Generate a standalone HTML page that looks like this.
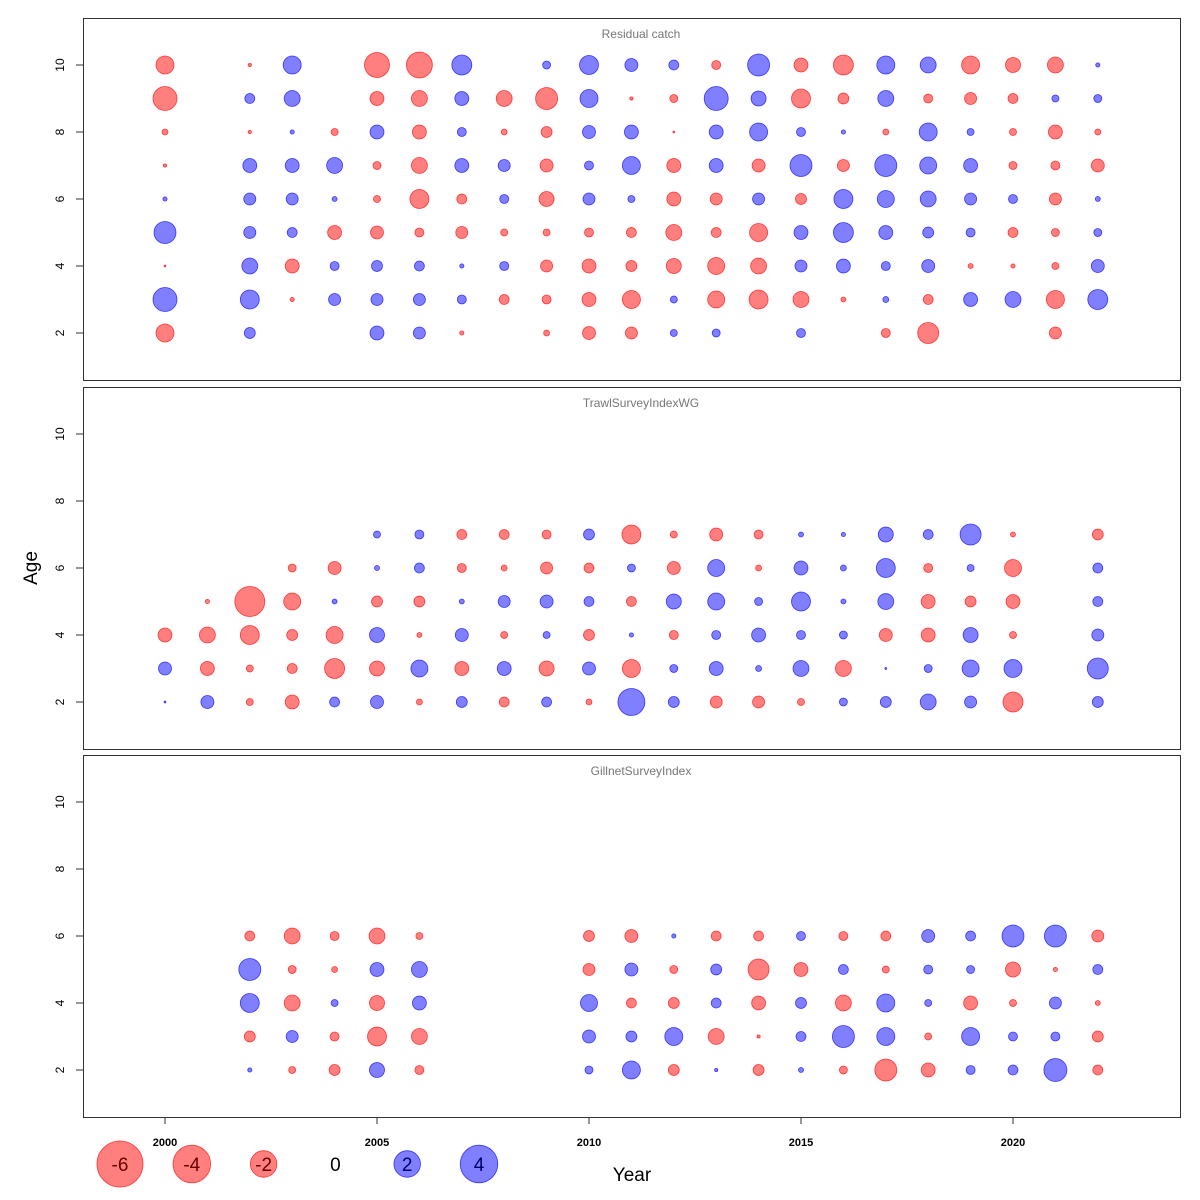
<!DOCTYPE html>
<html><head><meta charset="utf-8"><title>Residual bubble plots</title>
<style>
html,body{margin:0;padding:0;background:#fff;}
svg{display:block;font-family:"Liberation Sans",sans-serif;}
</style></head>
<body>
<svg id="chart" width="1200" height="1200" viewBox="0 0 1200 1200" xmlns="http://www.w3.org/2000/svg"></svg>
<script>
const years = [2000,2001,2002,2003,2004,2005,2006,2007,2008,2009,2010,2011,2012,2013,2014,2015,2016,2017,2018,2019,2020,2021,2022];
const xTicks = [2000,2005,2010,2015,2020];
const yTicks = [2,4,6,8,10];
const panelTitles = ["Residual catch","TrawlSurveyIndexWG","GillnetSurveyIndex"];
const legendValues = [-6,-4,-2,0,2,4];

const catchAges = [10,9,8,7,6,5,4,3,2];
const catchValues = [
 [-0.92,null,-0.03,0.92,null,-1.77,-1.91,1.13,null,0.18,1.02,0.48,0.28,-0.23,1.37,-0.55,-1.13,0.92,0.72,-0.92,-0.64,-0.72,0.05],
 [-1.63,null,0.28,0.72,null,-0.55,-0.72,0.55,-0.72,-1.37,0.92,-0.03,-0.18,1.63,0.64,-1.02,-0.34,0.72,-0.23,-0.41,-0.28,0.14,0.18],
 [-0.1,null,-0.03,0.05,-0.14,0.55,-0.55,0.23,-0.1,-0.34,0.48,0.55,-0.01,0.55,0.92,0.23,0.05,-0.1,0.92,0.14,-0.14,-0.55,-0.1],
 [-0.03,null,0.55,0.55,0.72,-0.18,-0.72,0.55,0.41,-0.48,0.23,0.92,-0.55,0.55,-0.48,1.37,-0.41,1.37,0.82,0.55,-0.18,-0.23,-0.48],
 [0.05,null,0.41,0.41,0.07,-0.14,-1.02,-0.28,0.23,-0.64,0.41,0.14,-0.55,-0.41,0.41,-0.34,1.02,0.82,0.72,0.41,0.23,-0.41,0.07],
 [1.37,null,0.41,0.28,-0.55,-0.48,-0.23,-0.41,-0.14,-0.14,-0.23,-0.28,-0.72,-0.28,-0.92,0.55,1.13,0.55,0.34,0.23,-0.28,-0.18,0.18],
 [-0.01,null,0.72,-0.55,0.23,0.34,0.28,0.05,0.23,-0.41,-0.55,-0.34,-0.64,-0.82,-0.72,0.41,0.55,0.23,0.48,-0.07,-0.05,-0.14,0.48],
 [1.63,null,1.02,-0.05,0.41,0.41,0.41,0.23,-0.28,-0.23,-0.55,-0.92,0.14,-0.82,-1.02,-0.72,-0.07,0.1,-0.28,0.55,0.72,-0.92,1.13],
 [-0.92,null,0.34,null,null,0.55,0.41,-0.05,null,-0.1,-0.48,-0.41,0.14,0.18,null,0.23,null,-0.23,-1.25,null,null,-0.41,null]
];
const trawlAges = [7,6,5,4,3,2];
const trawlValues = [
 [null,null,null,null,null,0.14,0.23,-0.28,-0.28,-0.23,0.34,-1.02,-0.14,-0.48,-0.23,0.07,0.05,0.64,0.28,1.25,-0.07,null,-0.34],
 [null,null,null,-0.18,-0.48,0.07,0.28,-0.23,-0.1,-0.41,-0.28,0.18,-0.48,0.82,-0.1,0.55,0.1,1.02,-0.23,0.14,-0.82,null,0.28],
 [null,-0.05,-2.55,-0.82,0.07,-0.34,-0.34,0.07,0.41,0.48,0.28,-0.28,0.64,0.82,0.18,1.02,0.07,0.72,-0.55,-0.34,-0.55,null,0.28],
 [-0.55,-0.72,-1.02,-0.34,-0.82,0.64,-0.07,0.48,-0.14,0.14,-0.34,0.05,-0.23,0.23,0.55,0.23,0.18,-0.48,-0.55,0.64,-0.14,null,0.41],
 [0.48,-0.55,-0.14,-0.28,-1.13,-0.64,0.82,-0.55,0.55,-0.64,0.48,-0.92,0.18,0.55,0.1,0.72,-0.72,0.01,0.18,0.82,0.92,null,1.25],
 [0.01,0.48,-0.14,-0.55,0.28,0.48,-0.1,0.34,-0.28,0.28,-0.1,2.06,0.34,-0.41,-0.41,-0.14,0.18,0.34,0.72,0.41,-1.13,null,0.34]
];
const gillnetAges = [6,5,4,3,2];
const gillnetValues = [
 [null,null,-0.28,-0.72,-0.23,-0.72,-0.14,null,null,null,-0.34,-0.48,0.05,-0.28,-0.28,0.23,-0.23,-0.28,0.48,0.28,1.37,1.37,-0.41],
 [null,null,1.37,-0.18,-0.1,0.55,0.72,null,null,null,-0.41,0.48,-0.18,0.34,-1.25,-0.55,0.28,-0.14,0.23,0.18,-0.64,-0.05,0.28],
 [null,null,1.02,-0.72,0.14,-0.64,0.55,null,null,null,0.82,-0.28,-0.34,0.28,-0.55,0.34,-0.72,0.92,0.14,-0.55,-0.14,0.41,-0.07],
 [null,null,-0.34,0.41,-0.23,-1.02,-0.72,null,null,null,0.48,0.34,0.92,-0.72,-0.03,0.28,1.37,0.92,-0.14,0.92,0.23,0.23,-0.34],
 [null,null,0.05,-0.14,-0.34,0.64,-0.23,null,null,null,0.18,0.92,-0.34,0.03,-0.34,0.07,-0.18,-1.37,-0.55,0.23,0.28,1.5,-0.28]
];

const NS = "http://www.w3.org/2000/svg";
const svg = document.getElementById('chart');
const PANEL_OFFSETS = [0,369,737];
function xScale(y){ return 165 + (y-2000)*42.4; }
function yScale(age, p){ return 333 - (age-2)*33.5 + PANEL_OFFSETS[p]; }
function rScale(v){ return 9.4*Math.sqrt(Math.abs(v)); }
function mk(tag, attrs){ const e=document.createElementNS(NS,tag); for(const k in attrs) e.setAttribute(k,attrs[k]); svg.appendChild(e); return e; }

const panels = [[catchAges,catchValues],[trawlAges,trawlValues],[gillnetAges,gillnetValues]];
const panelNames = ['catch','trawl','gillnet'];
panels.forEach((pd,p)=>{
  const top = 18 + PANEL_OFFSETS[p];
  const box = mk('rect',{x:83.5,y:top+0.5,width:1097,height:362,fill:'none',stroke:'#333','stroke-width':1});
  
  
  const t = mk('text',{x:641,y:top+20,'text-anchor':'middle','font-size':12,fill:'#777'});
  t.textContent = panelTitles[p];
  
  
  yTicks.forEach(a=>{
    const yy = yScale(a,p);
    const tk = mk('line',{x1:76,x2:83,y1:yy,y2:yy,stroke:'#333'});
    
    
    const lb = mk('text',{x:64,y:yy,'text-anchor':'middle','font-size':12,fill:'#000',transform:'rotate(-90 64 '+yy+')'});
    lb.textContent = a;
    
    
  });
  const ages = pd[0], vals = pd[1];
  ages.forEach((age,i)=>{
    vals[i].forEach((v,j)=>{
      if(v===null || v===undefined) return;
      const c = mk('circle',{cx:xScale(years[j]),cy:yScale(age,p),r:rScale(v),
        fill: v<0?'rgba(255,0,0,0.5)':'rgba(0,0,255,0.5)', stroke: v<0?'rgba(255,0,0,0.7)':'rgba(0,0,255,0.7)','stroke-width':0.8});
      
      
    });
  });
});
xTicks.forEach(yr=>{
  const xx = xScale(yr);
  const tk = mk('line',{x1:xx,x2:xx,y1:1117,y2:1124,stroke:'#333'});
  
  
  const lb = mk('text',{x:xx,y:1146,'text-anchor':'middle','font-size':11,'font-weight':'bold',fill:'#000'});
  lb.textContent = yr;
  
  
});
const xt = mk('text',{x:632,y:1181,'text-anchor':'middle','font-size':19,fill:'#000'});
xt.textContent = 'Year';


const yt = mk('text',{x:37,y:568,'text-anchor':'middle','font-size':19,fill:'#000',transform:'rotate(-90 37 568)'});
yt.textContent = 'Age';


legendValues.forEach((v,i)=>{
  const cx = 120 + i*71.8, cy = 1164;
  if(v!==0){
    const c = mk('circle',{cx:cx,cy:cy,r:rScale(v),fill:v<0?'rgba(255,0,0,0.5)':'rgba(0,0,255,0.5)',stroke:v<0?'rgba(255,0,0,0.7)':'rgba(0,0,255,0.7)','stroke-width':0.8});
    
    
  }
  const lb = mk('text',{x:cx,y:cy+7,'text-anchor':'middle','font-size':19,fill:v<0?'#600':(v>0?'#006':'#000')});
  lb.textContent = v;
  
  
});
</script>
</body></html>
